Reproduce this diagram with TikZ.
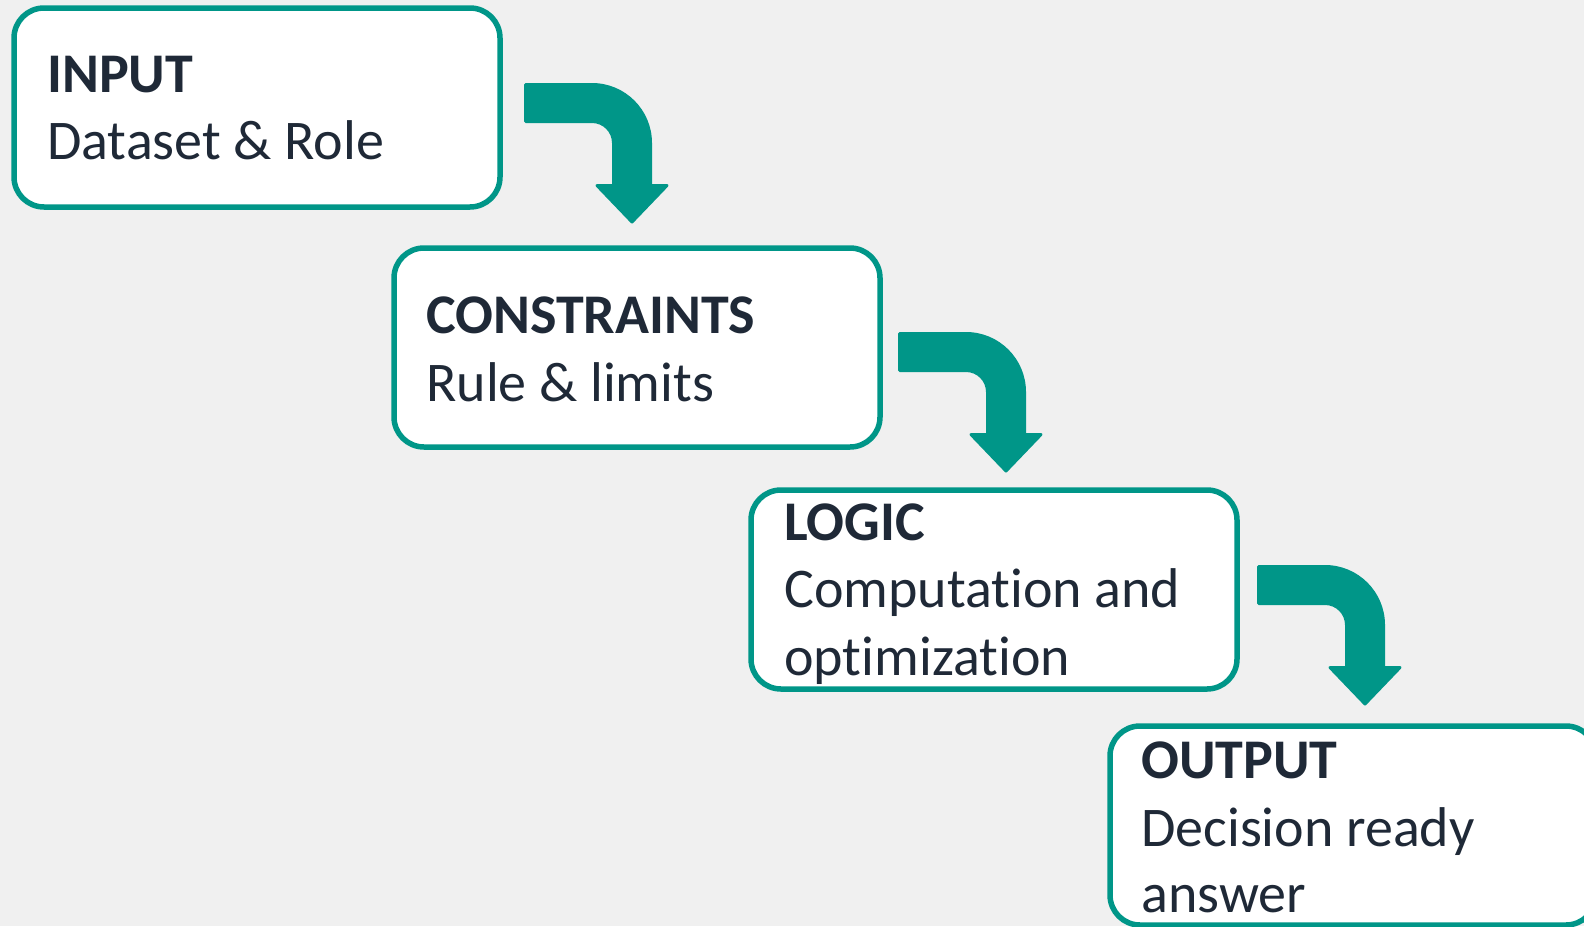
\documentclass[tikz,border=0pt]{standalone}
\usepackage{fontspec}
\setmainfont{Carlito}[Ligatures=NoCommon]
\usetikzlibrary{calc}
\definecolor{stepteal}{RGB}{0,150,136}
\definecolor{ink}{RGB}{31,41,55}
\definecolor{paper}{RGB}{240,240,240}
\begin{document}
\begin{tikzpicture}[x=1pt,y=-1pt,
  stagebox/.style={draw=stepteal, fill=white, line width=5.5pt, rounded corners=30pt,
    minimum width=486pt, minimum height=199pt, inner sep=0pt, outer sep=0pt},
  headtext/.style={anchor=base west, inner sep=0pt, text=ink,
    font=\fontsize{56}{67}\selectfont\bfseries},
  bodytext/.style={anchor=base west, inner sep=0pt, text=ink,
    font=\fontsize{56}{67}\selectfont},
  bendarrow/.style={fill=stepteal, draw=stepteal, line width=3pt, line join=round}]

% page and background
\useasboundingbox (0,0) rectangle (1584,926);
\clip (0,0) rectangle (1584,926);
\fill[paper] (0,0) rectangle (1584,926);

% the four stages
\node[stagebox] (input)       at (257,107.5)  {};
\node[stagebox] (constraints) at (637,347.5)  {};
\node[stagebox] (logic)       at (994,589.5)  {};
\node[stagebox] (output)      at (1353,825.5) {};

% stage texts
\node[headtext] (inputT)  at ($(input.north west)+(33,84)$)  {INPUT};
\node[bodytext] (inputB)  at ($(input.north west)+(33,151)$) {Dataset \& Role};

\node[headtext] (consT)   at ($(constraints.north west)+(32,85)$)  {CONSTRAINTS};
\node[bodytext] (consB)   at ($(constraints.north west)+(32,153)$) {Rule \& limits};

\node[headtext] (logicT)  at ($(logic.north west)+(33,50)$)  {LOGIC};
\node[bodytext] (logicB1) at ($(logic.north west)+(33,117)$) {Computation and};
\node[bodytext] (logicB2) at ($(logic.north west)+(33,185)$) {optimization};

\node[headtext] (outT)    at ($(output.north west)+(31,52)$)  {OUTPUT};
\node[bodytext] (outB1)   at ($(output.north west)+(31,120)$) {Decision ready};
\node[bodytext] (outB2)   at ($(output.north west)+(31,186)$) {answer};

% bent block arrows between the stages
\coordinate (arrA) at (524,83);
\coordinate (arrB) at (898,332);
\coordinate (arrC) at (1257,565);
\foreach \a in {arrA,arrB,arrC}{
  \begin{scope}[shift={(\a)}]
    \filldraw[bendarrow] (1.5,1.5) -- (68,1.5)
      arc[start angle=270, end angle=360, radius=58.5]
      -- (126.5,102.5) -- (143,102.5) -- (108,139) -- (73,102.5) -- (89.5,102.5)
      -- (89.5,60) arc[start angle=0, end angle=-90, radius=21.5]
      -- (1.5,38.5) -- cycle;
  \end{scope}
}
\end{tikzpicture}
\end{document}
